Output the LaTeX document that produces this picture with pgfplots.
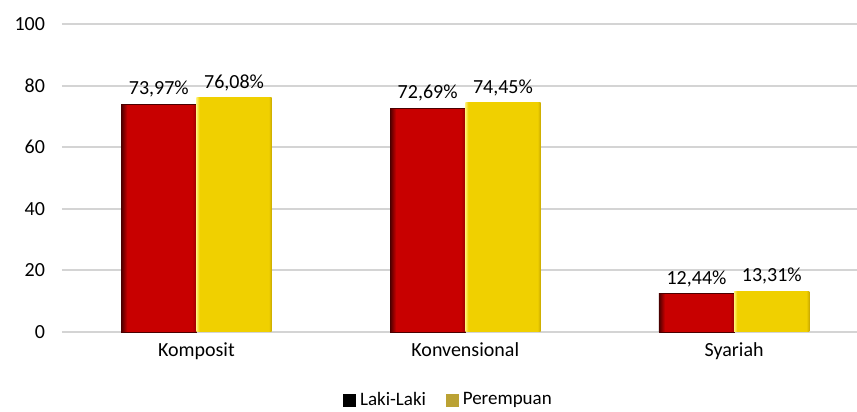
\documentclass[border=0pt]{standalone}
\usepackage{pgfplots}
\pgfplotsset{compat=1.18}
\usepackage{fontspec}
\setmainfont{Carlito}
\definecolor{rbody}{HTML}{C80000}
\definecolor{rdark}{HTML}{4A0000}
\definecolor{rright}{HTML}{9A0000}
\definecolor{ybody}{HTML}{F0D000}
\definecolor{yleft}{HTML}{FFF070}
\definecolor{yright}{HTML}{C8A800}
\definecolor{legy}{HTML}{BBA234}
\definecolor{gridc}{HTML}{D4D4D4}
\pgfdeclarehorizontalshading{redbar}{100bp}{color(0bp)=(rdark); color(25bp)=(rdark); color(29bp)=(rbody); color(72bp)=(rbody); color(75bp)=(rright); color(100bp)=(rright)}
\pgfdeclarehorizontalshading{yelbar}{100bp}{color(0bp)=(yleft); color(25bp)=(yleft); color(27bp)=(ybody); color(73bp)=(ybody); color(75bp)=(yright); color(100bp)=(yright)}
\pgfplotsset{
  redb/.style={ybar, shading=redbar, draw=rdark, line width=0.3pt, bar shift=0, forget plot},
  yelb/.style={ybar, shading=yelbar, draw=none, bar shift=0, forget plot},
}
\begin{document}
\begin{tikzpicture}
\begin{axis}[
  scale only axis,
  width=397.5pt, height=154pt,
  xmin=-0.5, xmax=2.457,
  ymin=0, ymax=100,
  ytick={0,20,40,60,80,100},
  xtick={0,1,2},
  xticklabels={Komposit,Konvensional,Syariah},
  axis line style={draw=none},
  major tick length=0pt,
  ymajorgrids,
  grid style={gridc, line width=1pt},
  tick label style={font=\fontsize{10}{12}\selectfont},
  yticklabel style={xshift=-5pt},
  xticklabel style={yshift=-2pt},
  /pgf/number format/assume math mode=true,
  bar width=0.28,
  nodes near coords={\pgfmathprintnumber[fixed,fixed zerofill,precision=2,use comma]{\pgfplotspointmeta}\%},
  nodes near coords style={font=\fontsize{10}{12}\selectfont, text=black},
  legend columns=2,
  legend style={at={(axis description cs:0.5,0)}, anchor=center, yshift=-34pt, xshift=-5pt, draw=none, font=\fontsize{9.5}{11}\selectfont, /tikz/every even column/.append style={column sep=8pt}},
  clip=false,
]
\addplot[redb] coordinates {(-0.14,73.97)};
\addplot[redb] coordinates {(0.86,72.69)};
\addplot[redb] coordinates {(1.86,12.44)};
\addplot[yelb] coordinates {(0.14,76.08)};
\addplot[yelb] coordinates {(1.14,74.45)};
\addplot[yelb] coordinates {(2.14,13.31)};
\addlegendimage{legend image code/.code={\fill[black] (0pt,-3pt) rectangle (6pt,3pt);}}
\addlegendentry{Laki-Laki}
\addlegendimage{legend image code/.code={\fill[legy] (0pt,-3pt) rectangle (6pt,3pt);}}
\addlegendentry{Perempuan}
\coordinate (bl) at (rel axis cs:0,0);
\coordinate (tr) at (rel axis cs:1,1);
\end{axis}
\pgfresetboundingbox
\path ([xshift=-31pt,yshift=-40pt]bl) rectangle ([yshift=12pt]tr);
\end{tikzpicture}
\end{document}
